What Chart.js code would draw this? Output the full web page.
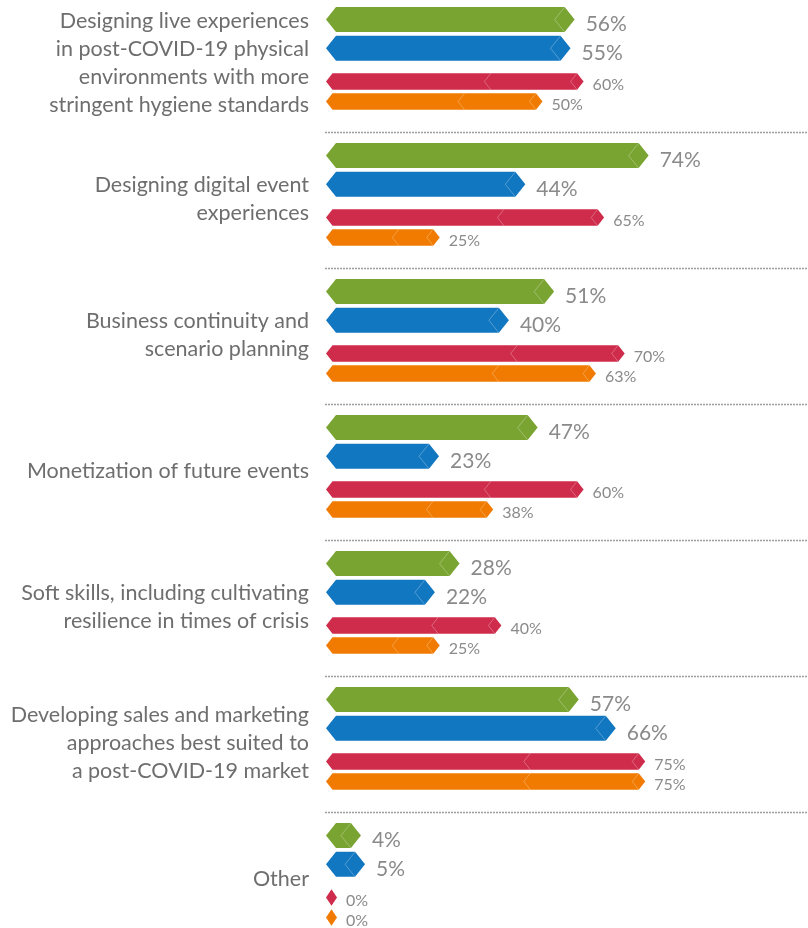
<!DOCTYPE html>
<html>
<head>
<meta charset="utf-8">
<script src="https://cdn.jsdelivr.net/npm/chart.js@4"></script>
<style>
html,body{margin:0;padding:0;background:#fff;}
#wrap{width:808px;height:928px;}
</style>
</head>
<body>
<div id="wrap"><canvas id="c" width="808" height="928"></canvas></div>
<script>
const categories = [
  ["Designing live experiences","in post-COVID-19 physical","environments with more","stringent hygiene standards"],
  ["Designing digital event","experiences"],
  ["Business continuity and","scenario planning"],
  ["Monetization of future events"],
  ["Soft skills, including cultivating","resilience in times of crisis"],
  ["Developing sales and marketing","approaches best suited to","a post-COVID-19 market"],
  ["Other"]
];
const seriesGreen  = [56, 74, 51, 47, 28, 57, 4];
const seriesBlue   = [55, 44, 40, 23, 22, 66, 5];
const seriesRed    = [60, 65, 70, 60, 40, 75, 0];
const seriesOrange = [50, 25, 63, 38, 25, 75, 0];

// style per series (not data)
const styles = [
  {color:'#7aa432', h:25,   tip:10,  ext:18.5, off:-43.7, font:21, gap:11, dy:5, mid:false},
  {color:'#1277c1', h:25,   tip:10,  ext:18.5, off:-15,   font:21, gap:11, dy:5, mid:false},
  {color:'#cf2c4c', h:16.5, tip:6.5, ext:11,   off:18.2,  font:16, gap:9,  dy:3, mid:true},
  {color:'#f07b00', h:16.5, tip:6.5, ext:11,   off:38.2,  font:16, gap:9,  dy:3, mid:true}
];

const hexPlugin = {
  id: 'hexBars',
  afterDatasetsDraw(chart) {
    const ctx = chart.ctx;
    const yScale = chart.scales.y;
    const area = chart.chartArea;
    ctx.save();
    ctx.strokeStyle = '#9c9c9c';
    ctx.lineWidth = 1.5;
    ctx.setLineDash([2, 1]);
    for (let i = 0; i < categories.length - 1; i++) {
      const y = (yScale.getPixelForValue(i) + yScale.getPixelForValue(i + 1)) / 2 + 1.2;
      ctx.beginPath();
      ctx.moveTo(area.left - 1, y);
      ctx.lineTo(chart.width, y);
      ctx.stroke();
    }
    ctx.restore();

    chart.data.datasets.forEach((ds, di) => {
      const st = styles[di];
      const meta = chart.getDatasetMeta(di);
      meta.data.forEach((el, i) => {
        const x0 = el.base;
        const rx = el.x + st.ext;
        const yc = el.y + st.off;
        const top = yc - st.h / 2, bot = yc + st.h / 2;
        const t = Math.min(st.tip, (rx - x0) / 2);
        ctx.save();
        ctx.fillStyle = st.color;
        ctx.beginPath();
        ctx.moveTo(x0, yc);
        ctx.lineTo(x0 + t, top);
        ctx.lineTo(rx - t, top);
        ctx.lineTo(rx, yc);
        ctx.lineTo(rx - t, bot);
        ctx.lineTo(x0 + t, bot);
        ctx.closePath();
        ctx.fill();
        ctx.strokeStyle = 'rgba(255,255,255,0.35)';
        ctx.lineWidth = 0.8;
        if (rx - x0 > 2 * t + 2) {
          ctx.beginPath();
          ctx.moveTo(rx - t, top);
          ctx.lineTo(rx - 2 * t, yc);
          ctx.lineTo(rx - t, bot);
          ctx.stroke();
          if (st.mid && rx - x0 > 60) {
            const m = x0 + (rx - x0) * 0.64;
            ctx.beginPath();
            ctx.moveTo(m, top);
            ctx.lineTo(m - t, yc);
            ctx.lineTo(m, bot);
            ctx.stroke();
          }
        }
        ctx.fillStyle = '#8a8a8a';
        ctx.font = st.font + 'px Lato, "Open Sans", sans-serif';
        ctx.textAlign = 'left';
        ctx.textBaseline = 'middle';
        ctx.fillText(ds.data[i] + '%', rx + st.gap, yc + st.dy);
        ctx.restore();
      });
    });
  }
};

const mk = (label, data, i) => ({
  label, data,
  backgroundColor: 'rgba(0,0,0,0)',
  borderWidth: 0,
  barThickness: styles[i].h,
  grouped: false
});

new Chart(document.getElementById('c'), {
  type: 'bar',
  data: {
    labels: categories,
    datasets: [
      mk('Series A', seriesGreen, 0),
      mk('Series B', seriesBlue, 1),
      mk('Series C', seriesRed, 2),
      mk('Series D', seriesOrange, 3)
    ]
  },
  options: {
    indexAxis: 'y',
    responsive: false,
    animation: false,
    layout: { padding: { top: 63.3, bottom: 48.7, right: 71, left: 0 } },
    plugins: { legend: { display: false }, tooltip: { enabled: false } },
    scales: {
      x: { display: false, min: 0, max: 100 },
      y: {
        type: 'category',
        offset: false,
        grid: { display: false, drawTicks: false },
        border: { display: false },
        ticks: {
          color: '#6e6e6e',
          padding: 17,
          autoSkip: false,
          font: { family: 'Lato, "Open Sans", sans-serif', size: 21.5, lineHeight: 1.3 }
        },
        afterFit(scale) {
          scale.width = 326;
          scale.paddingTop = 0;
          scale.paddingBottom = 0;
        }
      }
    }
  },
  plugins: [hexPlugin]
});
</script>
</body>
</html>
